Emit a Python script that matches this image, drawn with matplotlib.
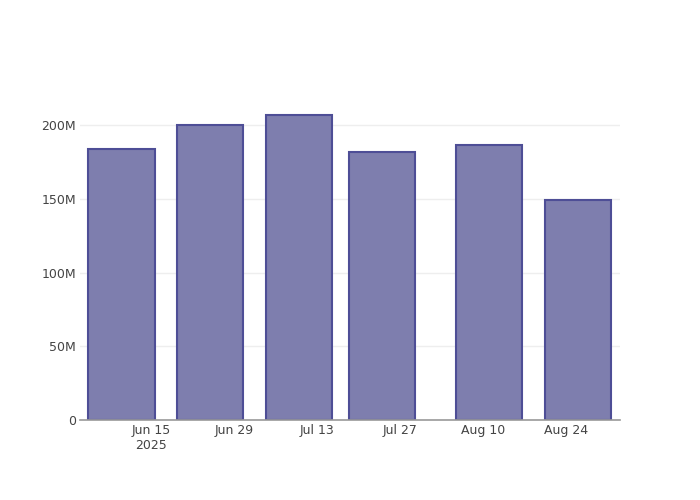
import matplotlib
matplotlib.use("Agg")
import matplotlib.pyplot as plt
import matplotlib.dates as mdates
import matplotlib.ticker as mticker
import numpy as np

# data
dates = np.array(["2025-06-10", "2025-06-25", "2025-07-10",
                  "2025-07-24", "2025-08-11", "2025-08-26"], dtype="datetime64[D]")
values = [183.9e6, 200.0e6, 206.6e6, 181.5e6, 186.4e6, 149.1e6]

tick_dates = np.array(["2025-06-15", "2025-06-29", "2025-07-13",
                       "2025-07-27", "2025-08-10", "2025-08-24"], dtype="datetime64[D]")
tick_labels = ["Jun 15\n2025", "Jun 29", "Jul 13", "Jul 27", "Aug 10", "Aug 24"]
y_ticks = [0, 50e6, 100e6, 150e6, 200e6]

fill_color = "#7e7eae"
edge_color = "#4e4e96"
text_color = "#444444"

fig = plt.figure(figsize=(7, 5), dpi=100)
ax = fig.add_axes([80 / 700, 80 / 500, 540 / 700, 320 / 500])

x = mdates.date2num(dates.astype("datetime64[s]").astype(object))
ax.bar(x, values, width=11.2, color=fill_color, edgecolor=edge_color,
       linewidth=1.5, zorder=3)

left = mdates.date2num(np.datetime64("2025-06-15").astype(object)) - 11.97
ax.set_xlim(left, left + 91.1)
ax.set_ylim(0, 217e6)

ax.set_xticks(mdates.date2num(tick_dates.astype(object)))
ax.set_xticklabels(tick_labels)
ax.set_yticks(y_ticks)
ax.yaxis.set_major_formatter(mticker.FuncFormatter(
    lambda v, p: "0" if v == 0 else f"{v / 1e6:.0f}M"))

ax.tick_params(axis="both", length=0, labelsize=9, colors=text_color)
ax.tick_params(axis="x", pad=3)
ax.tick_params(axis="y", pad=3)
ax.grid(axis="y", color="#eeeeee", linewidth=1, zorder=0)
for side in ["top", "right", "left"]:
    ax.spines[side].set_visible(False)
ax.spines["bottom"].set_color("#999999")
ax.spines["bottom"].set_linewidth(1.2)
ax.spines["bottom"].set_zorder(4)

fig.savefig("out.png", dpi=100)
